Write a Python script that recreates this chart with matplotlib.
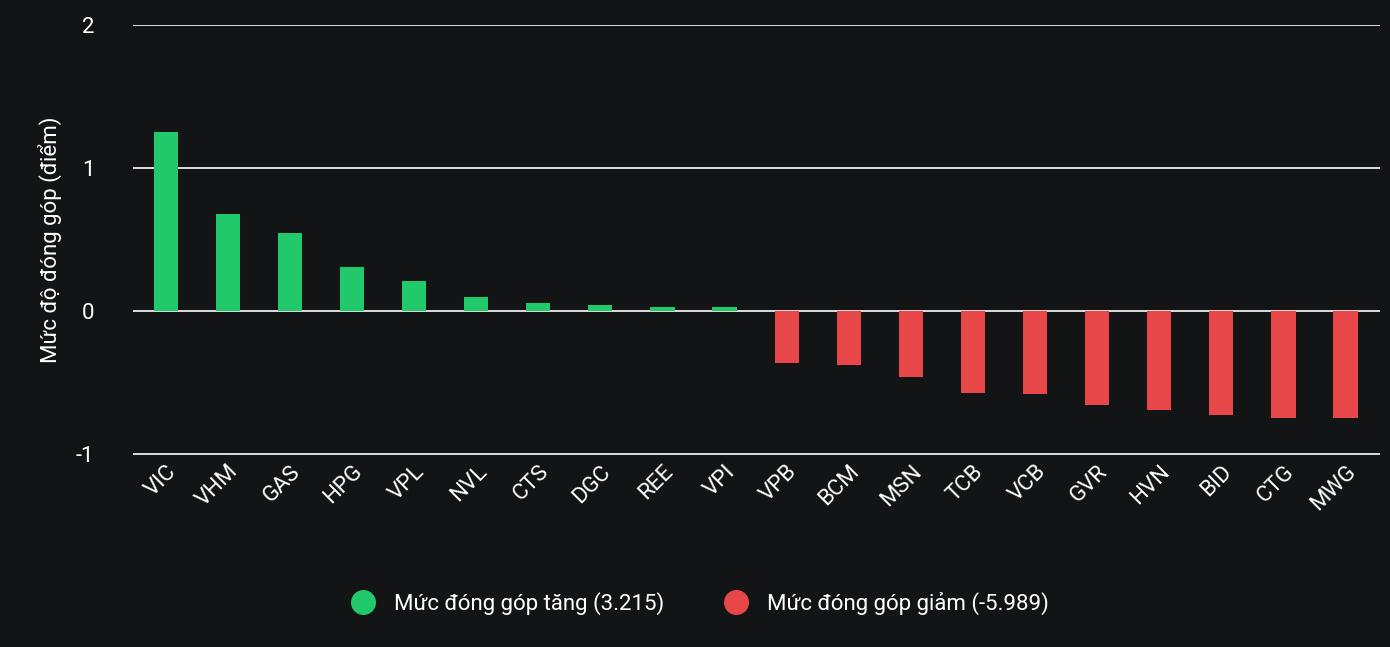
import matplotlib.pyplot as plt
from matplotlib.lines import Line2D

plt.rcParams['font.family'] = ['Roboto', 'DejaVu Sans']

tickers = ['VIC', 'VHM', 'GAS', 'HPG', 'VPL', 'NVL', 'CTS', 'DGC', 'REE', 'VPI',
           'VPB', 'BCM', 'MSN', 'TCB', 'VCB', 'GVR', 'HVN', 'BID', 'CTG', 'MWG']
values = [1.25, 0.68, 0.55, 0.31, 0.21, 0.10, 0.06, 0.04, 0.03, 0.03,
          -0.36, -0.38, -0.46, -0.57, -0.58, -0.66, -0.69, -0.73, -0.75, -0.75]
up_label = 'Mức đóng góp tăng (3.215)'
down_label = 'Mức đóng góp giảm (-5.989)'

bg = '#131416'
green = '#22c96b'
red = '#e84749'

fig = plt.figure(figsize=(13.9, 6.47), dpi=100, facecolor=bg)
ax = fig.add_axes([0.096, 0.296, 0.897, 0.666], facecolor=bg)
colors = [green if v >= 0 else red for v in values]
ax.bar(range(len(tickers)), values, width=0.39, color=colors, zorder=3)

ax.set_xlim(-0.52, 19.56)
ax.set_ylim(-1.01, 2.005)
ax.set_yticks([-1, 0, 1, 2])
ax.set_yticklabels(['-1', '0', '1', '2'])
ax.grid(axis='y', color='white', linewidth=1.2, zorder=0)
for s in ax.spines.values():
    s.set_visible(False)
ax.tick_params(axis='y', length=0, colors='white', labelsize=16, pad=28)
ax.tick_params(axis='x', length=0, colors='white', labelsize=16, pad=4)
ax.set_xticks(range(len(tickers)))
ax.set_xticklabels(tickers, rotation=45, ha='right', rotation_mode='anchor')
ax.set_ylabel('Mức độ đóng góp (điểm)', color='white', fontsize=16, labelpad=10)

handles = [Line2D([], [], marker='o', linestyle='', markersize=17, color=green),
           Line2D([], [], marker='o', linestyle='', markersize=17, color=red)]
fig.legend(handles, [up_label, down_label], loc='center', bbox_to_anchor=(0.5, 0.068),
           ncol=2, frameon=False, fontsize=16, labelcolor='white',
           handletextpad=0.4, columnspacing=2.2)

fig.savefig('out.png', dpi=100, facecolor=bg)
